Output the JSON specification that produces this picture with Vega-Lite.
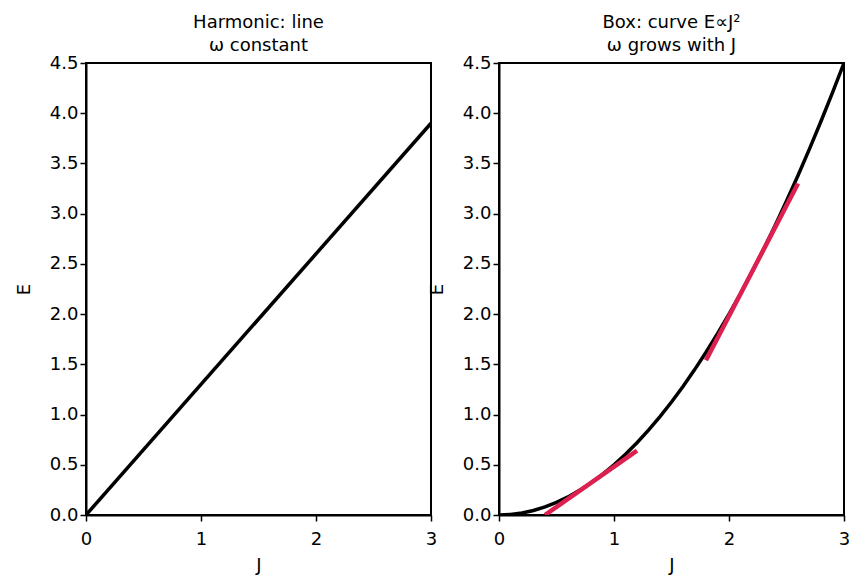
{
  "$schema": "https://vega.github.io/schema/vega-lite/v6.json",
  "background": "white",
  "padding": {"left": 14, "top": 13, "right": 18, "bottom": 10},
  "spacing": -11,
  "datasets": {
    "harm": [{"J": 0, "E": 0}, {"J": 3, "E": 3.9}],
    "box": [
      {"J": 0, "E": 0}, {"J": 0.1, "E": 0.005}, {"J": 0.2, "E": 0.02}, {"J": 0.3, "E": 0.045}, {"J": 0.4, "E": 0.08},
      {"J": 0.5, "E": 0.125}, {"J": 0.6, "E": 0.18}, {"J": 0.7, "E": 0.245}, {"J": 0.8, "E": 0.32}, {"J": 0.9, "E": 0.405},
      {"J": 1.0, "E": 0.5}, {"J": 1.1, "E": 0.605}, {"J": 1.2, "E": 0.72}, {"J": 1.3, "E": 0.845}, {"J": 1.4, "E": 0.98},
      {"J": 1.5, "E": 1.125}, {"J": 1.6, "E": 1.28}, {"J": 1.7, "E": 1.445}, {"J": 1.8, "E": 1.62}, {"J": 1.9, "E": 1.805},
      {"J": 2.0, "E": 2.0}, {"J": 2.1, "E": 2.205}, {"J": 2.2, "E": 2.42}, {"J": 2.3, "E": 2.645}, {"J": 2.4, "E": 2.88},
      {"J": 2.5, "E": 3.125}, {"J": 2.6, "E": 3.38}, {"J": 2.7, "E": 3.645}, {"J": 2.8, "E": 3.92}, {"J": 2.9, "E": 4.205},
      {"J": 3.0, "E": 4.5}
    ],
    "tangents": [
      {"seg": "a", "J": 0.4, "E": 0.0}, {"seg": "a", "J": 1.2, "E": 0.64},
      {"seg": "b", "J": 1.8, "E": 1.54}, {"seg": "b", "J": 2.6, "E": 3.3}
    ]
  },
  "hconcat": [
    {
      "width": 345,
      "height": 452,
      "title": {"text": ["Harmonic: line", "ω constant"]},
      "layer": [
        {
          "data": {"name": "harm"},
          "mark": {"type": "line", "color": "black", "strokeWidth": 3.5, "clip": true},
          "encoding": {
            "x": {"field": "J", "type": "quantitative", "scale": {"domain": [0, 3], "nice": false}, "axis": {"values": [0, 1, 2, 3], "format": "d", "title": "J"}},
            "y": {"field": "E", "type": "quantitative", "scale": {"domain": [0, 4.5], "nice": false}, "axis": {"values": [0, 0.5, 1, 1.5, 2, 2.5, 3, 3.5, 4, 4.5], "format": ".1f", "title": "E"}}
          }
        }
      ]
    },
    {
      "width": 345,
      "height": 452,
      "title": {"text": ["Box: curve E∝J²", "ω grows with J"]},
      "layer": [
        {
          "data": {"name": "box"},
          "mark": {"type": "line", "color": "black", "strokeWidth": 3.5, "clip": true},
          "encoding": {
            "x": {"field": "J", "type": "quantitative", "scale": {"domain": [0, 3], "nice": false}, "axis": {"values": [0, 1, 2, 3], "format": "d", "title": "J"}},
            "y": {"field": "E", "type": "quantitative", "scale": {"domain": [0, 4.5], "nice": false}, "axis": {"values": [0, 0.5, 1, 1.5, 2, 2.5, 3, 3.5, 4, 4.5], "format": ".1f", "title": "E"}}
          }
        },
        {
          "data": {"name": "tangents"},
          "mark": {"type": "line", "color": "#dc2050", "strokeWidth": 4.5, "clip": true},
          "encoding": {
            "x": {"field": "J", "type": "quantitative"},
            "y": {"field": "E", "type": "quantitative"},
            "detail": {"field": "seg"}
          }
        }
      ]
    }
  ],
  "config": {
    "font": "DejaVu Sans",
    "view": {"stroke": "black", "strokeWidth": 2},
    "title": {"fontSize": 18, "fontWeight": "normal", "font": "DejaVu Sans", "color": "black", "offset": -1, "lineHeight": 23},
    "axis": {
      "grid": false,
      "labelFlush": false,
      "domainColor": "black",
      "domainWidth": 2,
      "tickColor": "black",
      "tickWidth": 1.5,
      "tickSize": 6,
      "labelFontSize": 18,
      "labelColor": "black",
      "labelFont": "DejaVu Sans",
      "titleFontSize": 18,
      "titleFontWeight": "normal",
      "titleColor": "black",
      "titleFont": "DejaVu Sans"
    },
    "axisY": {"titlePadding": 16, "labelPadding": 2},
    "axisX": {"titlePadding": 8, "labelPadding": 9}
  }
}
